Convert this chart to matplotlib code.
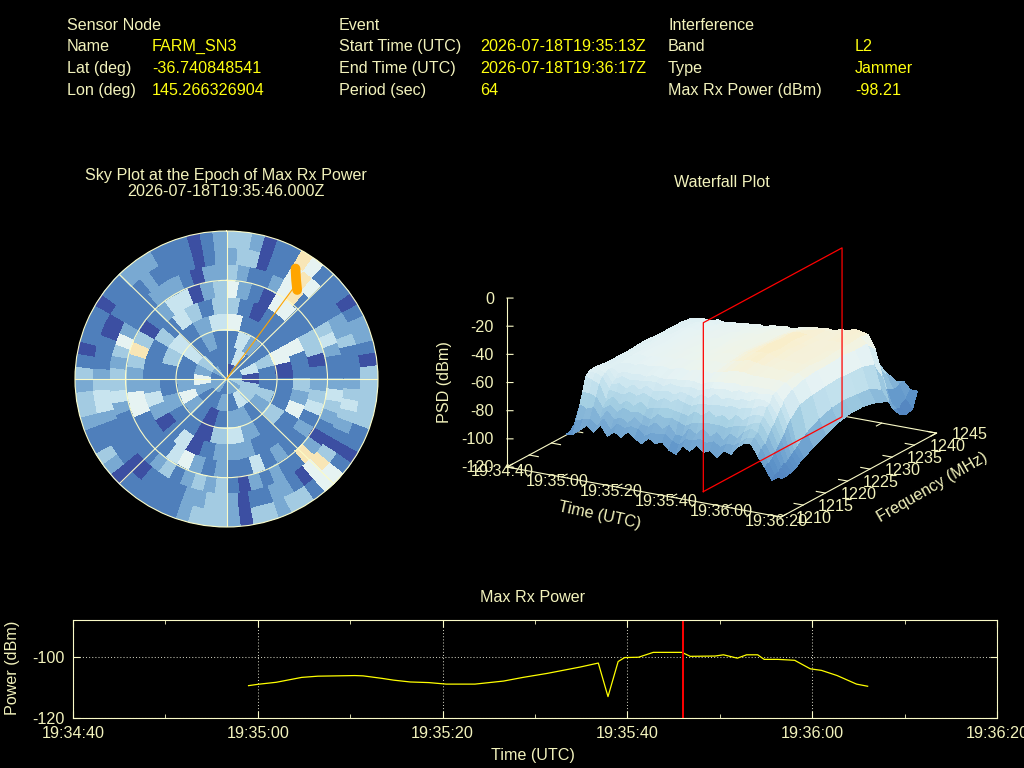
import numpy as np
import matplotlib
matplotlib.use('Agg')
import matplotlib.pyplot as plt
from matplotlib.colors import LinearSegmentedColormap, ListedColormap, Normalize
from mpl_toolkits.mplot3d import proj3d

plt.rcParams['font.family'] = ['Liberation Sans', 'DejaVu Sans']
plt.rcParams['axes.unicode_minus'] = False

W, H = 1024, 768
LABEL = '#f2f2bc'
LINE = '#fbfbc8'
VALUE = '#ffff10'
FONT = 11.6

# header tables
sensor_labels = ['Name', 'Lat (deg)', 'Lon (deg)']
sensor_values = ['FARM_SN3', '-36.740848541', '145.266326904']
event_labels = ['Start Time (UTC)', 'End Time (UTC)', 'Period (sec)']
event_values = ['2026-07-18T19:35:13Z', '2026-07-18T19:36:17Z', '64']
interf_labels = ['Band', 'Type', 'Max Rx Power (dBm)']
interf_values = ['L2', 'Jammer', '-98.21']

# sky plot cells per 10 deg zenith ring, clockwise from north, sectors get narrower outwards
ring1 = [0, 1, 1, 3, 2, 2, 1, 2, 2, 1, 2, 1]
ring2 = [1, 4, 1, 4, 0, 3, 3, 4, 1, 2, 1, 1, 2, 5, 2, 3, 1, 1]
ring3 = [1, 4, 2, 1, 3, 1, 1, 3, 2, 1, 2, 2, 1, 0, 1, 2, 5, 2, 1, 1, 4, 1, 2, 1]
ring4 = [5, 1, 1, 1, 5, 0, 1, 1, 3, 1, 2, 4, 3, 0, 1, 1, 2, 1, 1, 3, 4, 1, 2, 4]
ring5 = [3, 1, 0, 1, 1, 1, 5, 1, 1, 3, 2, 5, 1, 1, 1, 1, 2, 2,
         2, 1, 0, 4, 1, 0, 2, 4, 2, 1, 1, 1, 3, 1, 4, 3, 1, 3]
ring6 = [5, 2, 1, 0, 5, 5, 1, 1, 3, 3, 0, 1, 2, 3, 4, 1, 2, 1, 1, 2, 1, 4, 1, 1,
         2, 1, 2, 5, 4, 1, 1, 1, 1, 5, 5, 2, 2, 3, 6, 3, 0, 1, 2, 4, 4, 0, 2, 3]
ring7 = [3, 2, 1, 1, 2, 5, 6, 1, 1, 1, 3, 4, 2, 1, 1, 2, 4, 3, 2, 1, 0, 2, 6, 1, 1, 2, 1, 2, 0, 1,
         3, 2, 3, 2, 1, 3, 2, 1, 1, 1, 1, 1, 2, 4, 3, 3, 2, 3, 5, 2, 1, 1, 1, 2, 2, 2, 1, 0, 2, 2]
ring8 = [2, 3, 3, 0, 1, 1, 5, 6, 5, 1, 1, 1, 2, 2, 3, 1, 1, 1,
         2, 3, 4, 3, 2, 1, 0, 3, 6, 5, 0, 1, 2, 2, 1, 1, 0, 2,
         3, 3, 2, 2, 1, 1, 1, 1, 0, 0, 1, 1, 1, 1, 2, 4, 4, 3,
         2, 1, 1, 1, 0, 0, 1, 1, 1, 1, 2, 1, 1, 1, 1, 0, 1, 2]
ring9 = [3, 3, 2, 0, 1, 1, 6, 5, 1, 1, 1, 0, 1, 2, 2, 1, 0, 3,
         3, 3, 3, 3, 1, 1, 0, 1, 5, 5, 1, 3, 3, 2, 3, 3, 0, 2,
         3, 3, 3, 2, 1, 1, 1, 1, 1, 0, 2, 3, 1, 1, 2, 3, 3, 2,
         3, 1, 0, 1, 1, 1, 0, 1, 1, 2, 2, 2, 1, 1, 1, 0, 1, 2]
sky_colors = ['#3c4fa2', '#4f7fbb', '#79a9d2', '#a3cbe2', '#c8e4ef', '#e6f3f2', '#f8e6b6']

# satellite trail at the epoch: azimuth deg, zenith deg
trail_az = [31.4, 34.5, 37.8]
trail_zen = [78.7, 73.0, 68.5]
jammer_az = 35.7
jammer_zen = 68.0

# waterfall
time_axis = [0, 20, 40, 60, 80, 100]
time_axis_labels = ['19:34:40', '19:35:00', '19:35:20', '19:35:40', '19:36:00', '19:36:20']
freq_ticks = [1210, 1215, 1220, 1225, 1230, 1235, 1240, 1245]
psd_ticks = [0, -20, -40, -60, -80, -100, -120]
epoch = 66
freq_nodes = [1213.5, 1214.2, 1215, 1215.6, 1216.3, 1217, 1217.7, 1218.4, 1219.1, 1221.2, 1224, 1226.8, 1229.6,
              1232.4, 1235.2, 1238, 1239.8, 1240.8, 1242.2, 1243.6, 1244.7]
time_nodes = [16, 18.5, 21, 23.5, 26, 28.5, 31, 33.5, 36, 38.5, 41, 43.5, 46, 48.5, 51, 53.5,
              56, 58.5, 61, 63.5, 66, 68.5, 71, 73.5, 76, 78.5, 81, 83.5, 86, 88.5, 91, 93.5]
psd = [
    [-97, -97, -96, -96, -95, -95, -94, -94, -94, -93, -93, -92, -92, -92, -93, -93, -94, -95, -96, -97, -98],
    [-96, -88, -78, -70, -60, -58, -57, -57, -57, -58, -58, -58, -57, -58, -58, -58, -59, -66, -76, -87, -96],
    [-92, -86, -80, -70, -62, -58, -57, -56, -57, -58, -57, -56, -57, -56, -57, -57, -58, -65, -75, -85, -94],
    [-88, -85, -78, -72, -64, -60, -58, -57, -57, -57, -56, -56, -55, -56, -56, -57, -57, -64, -74, -84, -93],
    [-92, -89, -85, -79, -75, -68, -65, -63, -60, -56, -55, -55, -56, -55, -55, -56, -58, -65, -75, -86, -95],
    [-86, -83, -79, -76, -71, -69, -64, -60, -58, -57, -56, -54, -55, -54, -56, -55, -56, -63, -73, -84, -92],
    [-93, -90, -84, -80, -76, -70, -67, -62, -59, -55, -54, -55, -54, -55, -54, -56, -57, -64, -74, -85, -94],
    [-89, -85, -82, -76, -72, -67, -63, -61, -58, -56, -55, -53, -54, -53, -55, -54, -56, -63, -72, -83, -93],
    [-92, -87, -85, -78, -75, -69, -66, -61, -59, -55, -53, -54, -53, -54, -53, -55, -56, -64, -73, -84, -92],
    [-87, -85, -80, -77, -71, -66, -62, -60, -57, -54, -54, -52, -53, -53, -54, -53, -55, -62, -72, -82, -91],
    [-91, -86, -84, -79, -75, -68, -65, -60, -58, -55, -52, -53, -52, -52, -53, -54, -55, -63, -73, -83, -93],
    [-94, -90, -85, -81, -74, -70, -64, -62, -58, -54, -53, -52, -52, -53, -52, -53, -54, -62, -72, -82, -92],
    [-89, -87, -81, -76, -73, -67, -63, -59, -57, -53, -52, -51, -52, -51, -52, -53, -55, -61, -71, -83, -91],
    [-92, -87, -85, -78, -72, -69, -65, -60, -57, -54, -51, -51, -50, -51, -51, -52, -53, -62, -72, -82, -92],
    [-90, -86, -81, -77, -73, -66, -62, -60, -56, -52, -51, -50, -50, -50, -51, -52, -53, -60, -70, -81, -90],
    [-95, -90, -87, -79, -74, -68, -63, -59, -56, -52, -50, -49, -49, -50, -49, -51, -52, -61, -71, -82, -91],
    [-97, -92, -87, -81, -75, -69, -65, -60, -57, -53, -51, -50, -50, -50, -50, -51, -53, -60, -71, -82, -92],
    [-90, -87, -81, -78, -71, -67, -61, -59, -55, -51, -49, -48, -48, -49, -49, -50, -51, -60, -70, -80, -90],
    [-93, -87, -84, -77, -73, -66, -63, -57, -54, -50, -47, -46, -46, -47, -47, -49, -50, -59, -69, -80, -91],
    [-88, -85, -79, -76, -69, -66, -59, -57, -53, -49, -46, -45, -44, -45, -45, -48, -49, -58, -69, -79, -90],
    [-92, -87, -84, -76, -72, -65, -62, -56, -53, -48, -45, -44, -44, -44, -44, -47, -49, -58, -68, -79, -90],
    [-90, -85, -80, -76, -70, -65, -60, -57, -52, -48, -46, -44, -45, -44, -45, -46, -48, -59, -69, -80, -91],
    [-94, -88, -85, -77, -73, -64, -61, -55, -53, -49, -47, -46, -45, -46, -46, -46, -49, -59, -70, -80, -90],
    [-88, -85, -79, -75, -68, -65, -59, -56, -52, -49, -47, -47, -46, -46, -47, -47, -47, -58, -69, -79, -90],
    [-90, -85, -82, -74, -71, -63, -60, -54, -52, -49, -48, -47, -47, -47, -47, -46, -47, -58, -68, -79, -89],
    [-84, -82, -76, -73, -67, -63, -57, -55, -52, -49, -47, -47, -46, -47, -46, -46, -45, -57, -68, -78, -88],
    [-80, -78, -73, -70, -65, -60, -57, -54, -52, -49, -48, -47, -47, -47, -46, -45, -46, -60, -70, -79, -88],
    [-80, -77, -75, -69, -66, -60, -59, -54, -53, -50, -48, -47, -48, -47, -47, -46, -47, -63, -72, -80, -88],
    [-88, -84, -82, -77, -73, -70, -66, -62, -59, -54, -51, -50, -50, -49, -50, -50, -56, -70, -78, -83, -88],
    [-95, -93, -90, -87, -84, -81, -78, -73, -70, -63, -61, -60, -59, -60, -60, -63, -74, -85, -88, -87, -87],
    [-103, -101, -100, -98, -96, -94, -92, -90, -88, -82, -77, -74, -73, -74, -75, -80, -92, -99, -100, -97, -92],
    [-100, -102, -102, -102, -101, -100, -99, -97, -96, -92, -88, -84, -82, -82, -84, -88, -96, -102, -104, -103, -92],
]
psd_levels = [-108, -95, -85, -75, -65, -55, -50, -45, -42]
psd_colors = ['#4a78b8', '#5e94c9', '#7fb0d6', '#a4cfe3', '#c8e4ef', '#e6f3f4', '#eef4ea', '#f8f0d2', '#fbe9b8']

# max rx power trace, seconds after 19:34:40
power_t = [19.0, 20.05, 22, 24.75, 26.5, 30.5, 31.4, 33.4, 34.7, 36.5, 38.5, 40.4, 43.5, 46.6,
           48.7, 51.3, 54.9, 56.85, 57.9, 59, 59.7, 61.2, 62.8, 65.9, 66.8, 69.5, 70.4, 71.9,
           72.9, 74.1, 74.8, 76.3, 78.1, 79.8, 81, 82.7, 84.8, 86]
power_dbm = [-109.4, -108.95, -108.3, -106.7, -106.3, -106.1, -106.2, -107, -107.6, -108.2,
             -108.4, -108.9, -108.9, -107.9, -106.7, -105.4, -103.3, -102, -113, -101.5,
             -100.2, -100.1, -98.5, -98.5, -99.8, -99.7, -99.3, -100.4, -99.3, -99.3,
             -100.8, -100.8, -101.1, -103.9, -104.4, -106.1, -108.9, -109.6]
minor_time = [10, 30, 50, 70, 90]


def put(x, y, s, color=LABEL, ha='left', va='baseline', rotation=0, size=FONT):
    fig.text(x / W, 1 - y / H, s, color=color, ha=ha, va=va, rotation=rotation, size=size,
             rotation_mode='anchor')


fig = plt.figure(figsize=(W / 100, H / 100), dpi=100, facecolor='black')

# header
for x_label, x_value, head, labels, values in [
        (67, 152, 'Sensor Node', sensor_labels, sensor_values),
        (339, 480, 'Event', event_labels, event_values),
        (668, 855, 'Interference', interf_labels, interf_values)]:
    put(x_label, 30, head)
    for y, lab, val in zip([51, 73, 95], labels, values):
        put(x_label, y, lab)
        put(x_value, y, val, color=VALUE)

put(226, 180, 'Sky Plot at the Epoch of Max Rx Power', ha='center')
put(226, 196, '2026-07-18T19:35:46.000Z', ha='center')
put(722, 187, 'Waterfall Plot', ha='center')
put(533, 602, 'Max Rx Power', ha='center')

# sky plot
sky = fig.add_axes([75 / W, 1 - 527 / H, 303 / W, 296 / H], projection='polar')
sky.set_aspect('auto')
sky.set_facecolor('black')
sky.set_theta_zero_location('N')
sky.set_theta_direction(-1)
sky_cmap = ListedColormap(sky_colors)
rings = [ring1, ring2, ring3, ring4, ring5, ring6, ring7, ring8, ring9]
for i, ring in enumerate(rings):
    sky.pcolormesh(np.linspace(0, 2 * np.pi, len(ring) + 1), [10 * i, 10 * (i + 1)], [ring],
                   cmap=sky_cmap, vmin=-0.5, vmax=6.5, edgecolors='face', linewidth=0.2)
sky.set_rlim(0, 90)
sky.set_rticks([30, 60])
sky.set_thetagrids(np.arange(0, 360, 45))
sky.set_xticklabels([])
sky.set_yticklabels([])
sky.tick_params(length=0)
sky.grid(True, color=LINE, lw=0.8, ls='-')
sky.spines['polar'].set_color(LINE)
sky.spines['polar'].set_linewidth(0.8)
sky.plot(np.radians([jammer_az, jammer_az]), [0, jammer_zen], color='#ffa500', lw=0.8, zorder=5)
sky.plot(np.radians(trail_az), trail_zen, color='#ffa500', lw=7, solid_capstyle='round', zorder=5)

# waterfall
wf = fig.add_axes([0.2, 0.1, 0.6, 0.8], projection='3d', computed_zorder=False)
wf.set_proj_type('ortho')
wf.view_init(elev=18.3, azim=-59.8)
wf.set_box_aspect((317, 309.5, 178))
wf.set_xlim(0, 100, view_margin=0)
wf.set_ylim(1210, 1245, view_margin=0)
wf.set_zlim(-120, 0, view_margin=0)
wf.set_axis_off()
wf.patch.set_alpha(0)


def to_2d(t, f, z):
    xs, ys, _ = proj3d.proj_transform(t, f, z, wf.get_proj())
    return xs, ys


def to_px(t, f, z):
    return wf.transData.transform(to_2d(t, f, z))


# fit the axes box so the plot corners land where the reference has them
wf.apply_aspect()
corner_a = np.array([507, H - 467])
corner_c = np.array([936.5, H - 433])
p_a, p_c = to_px(0, 1210, -120), to_px(100, 1245, -120)
scale = (corner_c[0] - corner_a[0]) / (p_c[0] - p_a[0])
box = wf.get_position(original=True)
old_center = np.array([(box.x0 + box.x1) / 2 * W, (box.y0 + box.y1) / 2 * H])
size = min(box.width * W, box.height * H) * scale
new_center = corner_a - (p_a - old_center) * scale
wf.set_position([(new_center[0] - size / 2) / W, (new_center[1] - size / 2) / H, size / W, size / H])
wf.apply_aspect()

T, F = np.meshgrid(time_nodes, freq_nodes, indexing='ij')
cmap = LinearSegmentedColormap.from_list(
    'psd', [((v - psd_levels[0]) / (psd_levels[-1] - psd_levels[0]), c) for v, c in zip(psd_levels, psd_colors)])
wf.plot_surface(T, F, np.array(psd, dtype=float), cmap=cmap, norm=Normalize(psd_levels[0], psd_levels[-1]),
                rstride=1, cstride=1, linewidth=0, antialiased=False, shade=False, zorder=2)

base = dict(color=LINE, lw=0.8, zorder=1)
wf.plot([0, 100, 100, 0, 0], [1210, 1210, 1245, 1245, 1210], [-120] * 5, **base)
wf.plot([0, 0], [1210, 1210], [-120, 0], **base)
for t in time_axis:
    wf.plot([t, t], [1210, 1211.2], [-120, -120], **base)
    wf.plot([t, t], [1245, 1243.8], [-120, -120], **base)
for f in freq_ticks:
    wf.plot([100, 96.7], [f, f], [-120, -120], **base)
    wf.plot([0, 3.3], [f, f], [-120, -120], **base)
for z in psd_ticks:
    wf.plot([0, 1.64], [1210, 1210.34], [z, z], **base)

wf.plot([epoch, epoch, epoch, epoch, epoch], [1213.5, 1244.7, 1244.7, 1213.5, 1213.5], [-120, -120, 0, 0, -120],
        color='#ff0000', lw=0.9, zorder=6)


def axis_text(s, t, f, z, dx, dy, **kw):
    wf.annotate(s, xy=to_2d(t, f, z), xycoords='data', xytext=(dx, dy), textcoords='offset pixels',
                color=LABEL, size=FONT, annotation_clip=False, va='center', zorder=8, **kw)


for t, lab in zip(time_axis, time_axis_labels):
    axis_text(lab, t, 1210, -120, -5, -4, ha='center')
for f in freq_ticks:
    axis_text(str(f), 100, f, -120, 15, -1, ha='left')
for z in psd_ticks:
    axis_text(str(z), 0, 1210, z, -13, -1, ha='right')

put(444, 382, 'PSD (dBm)', ha='center', va='center', rotation=90)
put(600, 515, 'Time (UTC)', ha='center', va='center', rotation=-12)
put(932, 487, 'Frequency (MHz)', ha='center', va='center', rotation=30)

# max rx power
ax = fig.add_axes([73 / W, 1 - 718 / H, 924 / W, 98 / H], facecolor='black')
ax.plot(power_t, power_dbm, color='#ffff00', lw=0.9)
ax.axvline(epoch, color='#ff0000', lw=1.4, solid_capstyle='butt')
ax.set_xlim(0, 100)
ax.set_ylim(-120, -87.9)
ax.set_xticks(time_axis)
ax.set_xticklabels(time_axis_labels, clip_on=False)
ax.set_xticks(minor_time, minor=True)
ax.set_yticks([-120, -100])
ax.grid(True, which='major', color='#c8c8b8', lw=0.75, ls=(0, (1, 2)))
ax.tick_params(which='major', direction='in', length=5, top=True, right=True, color=LINE,
               labelcolor=LABEL, labelsize=FONT, pad=6)
ax.tick_params(which='minor', direction='in', length=3, top=True, color=LINE)
for sp in ax.spines.values():
    sp.set_color(LINE)
    sp.set_linewidth(0.8)
put(533, 760, 'Time (UTC)', ha='center')
put(13, 668, 'Power (dBm)', ha='center', va='center', rotation=90)

fig.savefig('out.png', dpi=100, facecolor='black')
